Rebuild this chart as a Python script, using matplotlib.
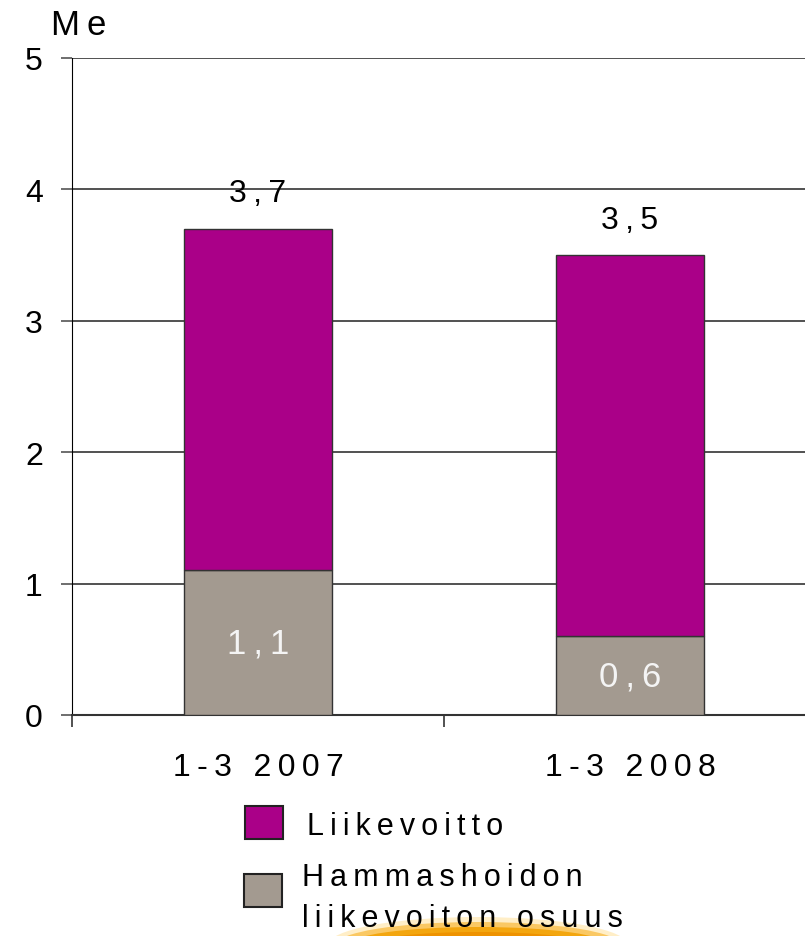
import matplotlib.pyplot as plt
import numpy as np
from matplotlib.patches import Ellipse, Rectangle

# Data (Me)
categories = ['1-3 2007', '1-3 2008']
totals = [3.7, 3.5]
dental = [1.1, 0.6]
rest = [t - d for t, d in zip(totals, dental)]
total_labels = ['3,7', '3,5']
dental_labels = ['1,1', '0,6']
legend_labels = ['Liikevoitto', 'Hammashoidon', 'liikevoiton osuus']

magenta = '#AA0088'
grey = '#A39A90'

plt.rcParams['font.family'] = ['Liberation Sans', 'DejaVu Sans']


def spaced(s):
    # the reference text is set with wide letter spacing
    return '\u2009'.join(s)


fig = plt.figure(figsize=(8.05, 9.37), dpi=100)
ax = fig.add_axes([72/805, 1-716/937, 744/805, (716-59)/937])

x = np.arange(len(categories))
ax.bar(x, dental, 0.4, color=grey, edgecolor='#333333', linewidth=1, zorder=3)
ax.bar(x, rest, 0.4, bottom=dental, color=magenta, edgecolor='#333333',
       linewidth=1, zorder=3)

for i in range(len(categories)):
    ax.text(x[i], totals[i] + 0.27, spaced(total_labels[i]), ha='center',
            va='center', fontsize=23)
    ax.text(x[i], dental[i] / 2, spaced(dental_labels[i]), ha='center',
            va='center', fontsize=25, color='#F4F4F4', zorder=4)

ax.set_xlim(-0.5, 1.5)
ax.set_ylim(0, 5)
ax.set_yticks(range(6))
ax.set_yticklabels([str(v) for v in range(6)], fontsize=23)
ax.yaxis.grid(True, color='#333333', linewidth=1.2, zorder=0)
ax.set_xticks([-0.5, 0.5, 1.5])
ax.set_xticklabels([])
ax.set_xticks(x, minor=True)
ax.set_xticklabels([spaced(c) for c in categories], minor=True, fontsize=23)
ax.tick_params(axis='x', which='minor', length=0, pad=27)
ax.tick_params(axis='x', which='major', length=8.5, width=1.2, color='#333333')
ax.tick_params(axis='y', length=8, width=1.2, color='#555555', pad=13)
for s in ['top', 'right']:
    ax.spines[s].set_visible(False)
ax.spines['left'].set_color('black')
ax.spines['bottom'].set_color('#333333')
ax.spines['bottom'].set_linewidth(1.5)

fig.text(51/805, 1-35/937, spaced('Me'), fontsize=25, va='baseline', ha='left')

# orange glow under the legend text
for w, h, a, c in [(300, 56, 0.35, '#FFD060'), (285, 46, 0.6, '#F8B020'),
                   (260, 36, 0.85, '#F2A000'), (220, 26, 1.0, '#EE9200')]:
    fig.patches.append(Ellipse((478/805, 1-946/937), w/805, h/937,
                               transform=fig.transFigure, facecolor=c,
                               edgecolor='none', alpha=a, zorder=0))

# legend
fig.patches.append(Rectangle((245/805, 1-840/937), 38/805, 33/937,
                             transform=fig.transFigure, facecolor=magenta,
                             edgecolor='#222222', linewidth=1.5))
fig.patches.append(Rectangle((244/805, 1-908/937), 38/805, 33/937,
                             transform=fig.transFigure, facecolor=grey,
                             edgecolor='#222222', linewidth=1.5))
fig.text(307/805, 1-835/937, spaced(legend_labels[0]), fontsize=22,
         va='baseline')
fig.text(302/805, 1-886/937, spaced(legend_labels[1]), fontsize=22,
         va='baseline')
fig.text(302/805, 1-927/937, spaced(legend_labels[2]), fontsize=22,
         va='baseline')

fig.savefig('out.png', dpi=100)
